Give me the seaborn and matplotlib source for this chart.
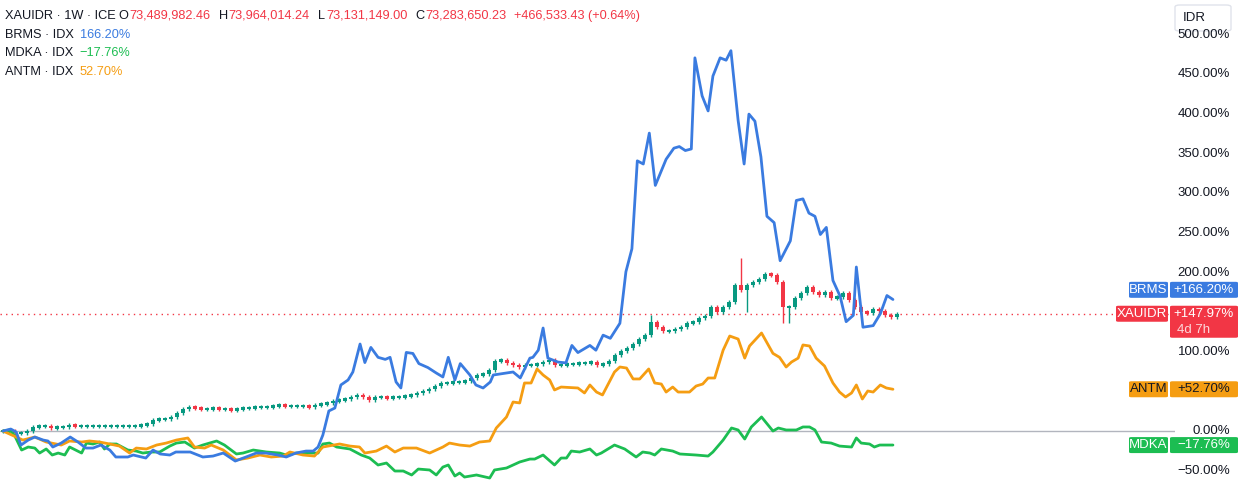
import numpy as np
import pandas as pd
import matplotlib
matplotlib.use("Agg")
import matplotlib.pyplot as plt
import seaborn as sns

# ---------------- data (percent change vs start, weekly) ----------------
gold_close = [0,0,-2.5,-2.5,0,5,6.3,6.3,3.8,5,5,7.6,6.3,
    6.3,6.3,6.3,6.3,6.3,6.3,6.3,6.3,6.3,6.3,
    7.6,8.8,13.9,15.2,15.2,17.7,22.7,27.8,30.3,29,27.8,27.8,29,27.8,27.8,26.5,27.8,29,29,
    30.3,30.3,30.3,31.6,32.8,31.6,31.6,31.6,31.6,30.3,32.8,34.1,35.4,37.9,39.1,40.4,42.9,45.5,
    42.9,39.1,42.9,42.9,41.7,42.9,42.9,44.2,45.5,48,50.5,53,56.8,60.6,60.6,61.9,61.9,63.1,66.9,
    70.7,72,77,88.4,89.6,85.9,83.3,80.8,83.3,83.3,84.6,87.1,89.6,83.3,83.3,84.6,84.6,85.9,85.9,
    87.1,83.3,84.6,88.4,96,101,104.8,109.8,116.1,121.2,137.6,131.3,126.3,126.3,128.8,131.3,136.4,
    137.6,142.7,145.2,156.6,150.2,156.6,162.9,184.3,178,184.3,188.1,191.9,198.2,197,188.1,156.6,
    156.6,167.9,174.2,181.8,175.5,171.7,175.5,167.9,169.2,174.2,165.4,156.6,150.2,149,154,151.5,
    146.5,143.9,148]
gold_spike_week = [108, 123, 124, 130, 131]
gold_spike_high = [146, 218, None, None, None]
gold_spike_low = [None, None, 150, 136, 136]

brms_week = [0,1.3,2.2,3,4.2,5.3,6.7,7.5,8.3,9.7,11.2,12.5,13.8,15,16.3,17.8,18.8,20.8,21.7,23.8,
    25,26.2,27.8,28.8,31.2,33.3,35,36.7,38.7,40.5,42.2,43.8,45.8,47.2,48.8,50.5,51.7,52.5,53.3,
    54.3,55.3,56.3,57.5,58.3,59.5,60.3,61.3,62.5,63.7,64.5,65.5,66.3,67.2,68.3,69.3,70.8,72.2,
    73.3,74.2,75.3,76.2,77.8,78.8,80,81.2,81.7,85,86.2,87.8,88.3,89.2,90,90.8,92.5,93.8,94.8,
    95.8,97.8,98.8,100,101.2,102.8,103.8,104.8,105.7,106.7,107.7,108.7,110.5,111.8,112.7,113.7,
    114.7,115.3,116.5,117.5,118.3,119.5,120.5,121.3,122.5,123.5,124.3,125.3,126.3,127.3,128.5,
    129.5,131.2,132.2,133.3,134.3,135.3,136.2,137.2,138.3,139.5,140.5,141.7,142.2,143.3,145,
    146.2,147.3,148.3]
brms_pct = [0,2.5,-1.3,-17.7,-11.4,-7.6,-11.4,-12.6,-20.2,-15.2,-7.6,-13.9,-21.5,-21.5,-17.7,
    -24,-32.8,-32.8,-30.3,-34.1,-24,-29,-30.3,-26.5,-26.5,-32.8,-31.6,-27.8,-37.9,-32.8,-27.8,
    -27.8,-30.3,-32.8,-27.8,-25.3,-25.3,-20.2,-5.1,25.3,29,58.1,64.4,74.5,109.8,86.4,105.5,93,
    90.4,93,61.9,54.3,99.2,97.9,85.1,80.1,73.2,68.2,93,64.4,85.1,70.7,58.1,54.3,61.9,70.7,74.5,
    67,92,93,102,130,92,87,86,108,99,108,102,121,117,136,201,230,341,337,376,310,343,357,359,
    354,356,471,423,404,448,471,468,480,392,337,400,391,346,271,263,215,240,291,293,275,271,
    248,257,190,170,138,146,207,131,133,148,171,166]

antm_week = [0,2.2,3.3,5.3,7.2,9.7,11.1,13.1,14.4,16.1,17.8,19.4,21.1,22.2,23.9,25.6,27.2,28.9,
    30.8,31.9,33.6,34.7,36.7,38.9,40.8,42.8,44.7,46.7,47.8,50,51.9,53.3,56.1,57.8,59.4,60.3,
    62.2,63.9,65.3,66.7,68.9,71.1,73.3,74.4,76.1,77.8,79.4,81.1,82.2,83.9,85,86.1,86.9,88,89,
    90,91.1,91.9,93,95.8,96.9,97.8,98.9,99.9,101.9,102.8,103.9,105,106.1,107.6,108.6,109.7,
    110.5,111.6,112.5,114.4,115.5,116.6,117.5,118.6,120,121.1,122.5,123.6,124.4,126.4,128.3,
    129.4,130.5,131.4,132.5,133.3,134.4,135.5,136.9,138.3,139.4,140.4,141.4,142.2,143.2,144.1,
    145,146.2,147.2,148.3]
antm_pct = [0,-7.6,-11.4,-7.6,-13.9,-17.7,-12.6,-13.9,-12.6,-13.9,-16.4,-19,-27.8,-21.5,-22.7,
    -17.7,-15.2,-11.4,-8.8,-20.2,-21.5,-17.7,-24,-36.6,-34.1,-30.3,-32.8,-31.6,-26.5,-30.3,
    -31.6,-20.2,-16.4,-19,-20.2,-27.8,-25.3,-19,-26.5,-21.5,-21.5,-27.8,-20.2,-15.2,-17.7,-19,
    -13.9,-12.6,3.8,17.7,36.6,35.4,60.6,60.6,78.3,70.7,64.4,51.8,55.5,54.3,48,58.1,49.2,45.5,
    74.5,80.8,79.5,65.7,65.7,78.3,60.6,59.3,49.2,55.5,49.2,49.2,56.8,59.3,66.9,66.9,102,119.9,
    116.1,92,107.3,123.7,98,93,80.8,87.1,92,108.6,107.3,92,82,60.6,49.2,42.9,48,58.1,40.4,50.5,
    49.2,58.1,54.3,52.7]

mdka_week = [0,1.1,1.9,3.1,4.2,5.3,6.1,7.2,8.2,9.2,10.3,11.1,13.1,13.9,15,16.1,16.9,17.8,18.9,
    20.8,22.2,23.3,24.7,26.1,27.8,28.9,30.3,31.9,33.3,35.6,36.9,38.9,40,41.7,43.9,46.1,47.2,
    48.9,50.6,52.5,53.3,54.4,55.6,57.8,59.7,61.1,62.5,63.9,65.3,66.7,68.1,69.2,71.1,72.2,73.3,
    74.2,75.3,76.1,76.9,78.9,81.1,81.9,83.9,86.1,87.8,88.6,90,91.9,93,93.9,94.7,96.1,97.8,98.9,
    99.7,101.9,103.6,105.5,106.6,107.8,108.6,109.7,111.6,112.8,115.5,117.5,118.3,120,121.4,
    122.5,123.6,124.7,126.4,128.3,129.2,130.5,132.2,133.3,134.4,135.3,136.4,138,139.4,141.4,
    142.2,143,144.4,145.2,146.1,148.3]
mdka_pct = [0,1.3,-5.1,-24,-20.2,-21.5,-27.8,-22.7,-30.3,-27.8,-30.3,-20.2,-27.8,-15.2,-16.4,
    -13.9,-22.7,-16.4,-16.4,-24,-25.3,-27.8,-26.5,-26.5,-19,-15.2,-13.9,-21.5,-17.7,-12.6,-17.7,
    -29,-27.8,-24,-26.5,-27.8,-30.3,-27.8,-27.8,-27.8,-16.4,-15.2,-20.2,-22.7,-30.3,-34.1,-42.9,
    -40.4,-50.5,-50.5,-55.5,-48,-49.2,-55.5,-45.5,-42.9,-56.8,-53,-58.1,-55.5,-59.3,-49.2,-46.7,
    -39.1,-35.4,-35.4,-30.3,-42.9,-34.1,-34.1,-25.3,-26.5,-22.7,-30.3,-27.8,-17.7,-22.7,-32.8,
    -26.5,-27.8,-30.3,-22.7,-25.3,-29,-30.3,-31.6,-26.5,-11.4,3.8,1.3,-10.1,5.1,17.7,0,3.8,1.3,
    1.3,5.1,5.1,1.3,-13.9,-15.2,-19,-20.2,-8.8,-15.2,-16.4,-20.2,-17.7,-17.7]

y_ticks = [-50, 0, 100, 200, 250, 300, 350, 400, 450, 500]

BLUE = "#3a7be0"; ORANGE = "#f59d12"; GREEN = "#1cbd52"
UP = "#089981"; DOWN = "#f23645"

# ---------------- figure ----------------
sns.set_theme(style="white")
plt.rcParams['font.family'] = ['Liberation Sans', 'DejaVu Sans']
W, H = 1245, 494
fig = plt.figure(figsize=(W/100, H/100), dpi=100)
ax = fig.add_axes([0, 0, 1175/W, 1])
ax.set_xlim(-0.5, 195.3)
ax.set_ylim(-79.5, 544)
for s in ax.spines.values():
    s.set_visible(False)
ax.set_xticks([]); ax.set_yticks([])

ax.axhline(0, color="#b2b5be", lw=1, zorder=1)
ax.axhline(gold_close[-1], color=DOWN, lw=1, ls=(0, (1, 3)), zorder=1)

# candles
close = np.array(gold_close, dtype=float)
opn = np.concatenate([[0.0], close[:-1]])
wk = np.arange(len(close))
hi = np.maximum(opn, close) + 2
lo = np.minimum(opn, close) - 2
for w, h, l in zip(gold_spike_week, gold_spike_high, gold_spike_low):
    if w < len(close):
        if h is not None: hi[w] = h
        if l is not None: lo[w] = l
cols = [UP if c >= o else DOWN for o, c in zip(opn, close)]
ax.vlines(wk, lo, hi, colors=cols, lw=1, zorder=2)
body = np.maximum(np.abs(close - opn), 3.5)
bot = np.where(np.abs(close - opn) < 3.5, (opn + close) / 2 - 1.75, np.minimum(opn, close))
ax.bar(wk, body, bottom=bot, width=0.7, color=cols, lw=0, zorder=2)

for wks, vals, c in [(mdka_week, mdka_pct, GREEN), (antm_week, antm_pct, ORANGE), (brms_week, brms_pct, BLUE)]:
    df = pd.DataFrame({"w": wks, "v": vals})
    sns.lineplot(data=df, x="w", y="v", ax=ax, color=c, lw=2, sort=False, zorder=3)
ax.set_xlabel(""); ax.set_ylabel("")

# right price scale
for tk in y_ticks:
    fig.text(1230/W, (tk + 79.5) / 623.5, f"{tk:.2f}%".replace("-", "\u2212"),
             ha="right", va="center", fontsize=9.5, color="#131722")

def tag(v, name, val, color, tc="white", extra=None, x0=1129):
    yc = (v + 79.5) / 623.5
    hpx = 16
    fig.patches.append(matplotlib.patches.FancyBboxPatch((x0/W, yc - hpx/2/H), (1168-x0)/W, hpx/H,
        boxstyle="round,pad=0,rounding_size=0.002", transform=fig.transFigure, color=color, lw=0))
    h2 = hpx + (16 if extra else 0)
    fig.patches.append(matplotlib.patches.FancyBboxPatch((1170/W, yc + hpx/2/H - h2/H), 68/W, h2/H,
        boxstyle="round,pad=0,rounding_size=0.002", transform=fig.transFigure, color=color, lw=0))
    fig.text((x0 + 1168)/2/W, yc, name, ha="center", va="center", fontsize=9.5, color=tc)
    fig.text(1204/W, yc, val, ha="center", va="center", fontsize=9.5, color=tc)
    if extra:
        fig.text(1177/W, yc - 16/H, extra, ha="left", va="center", fontsize=9.5, color=tc, alpha=0.8)

tag(166.2 + 12, "BRMS", "+166.20%", BLUE)
tag(gold_close[-1], "XAUIDR", "+147.97%", DOWN, extra="4d 7h", x0=1116)
tag(52.7, "ANTM", "+52.70%", ORANGE, tc="#131722")
tag(-17.76, "MDKA", "\u221217.76%", GREEN)

# IDR box
fig.patches.append(matplotlib.patches.FancyBboxPatch((1175/W, 1-31/H), 56/W, 26/H,
    boxstyle="round,pad=0,rounding_size=0.004", transform=fig.transFigure,
    facecolor="white", edgecolor="#e0e3eb", lw=1))
fig.text(1183/W, 1-18/H, "IDR", ha="left", va="center", fontsize=9.5, color="#131722")

# legend (top-left): pieces laid out one after another
K = "#131722"; R = DOWN
renderer = fig.canvas.get_renderer()
def row(y, pieces, x=5):
    for s, c, gap in pieces:
        txt = fig.text(x/W, 1 - y/H, s, ha="left", va="center", fontsize=9.2, color=c)
        x += txt.get_window_extent(renderer).width + gap
row(16, [("XAUIDR \u00b7 1W \u00b7 ICE", K, 3), ("O", K, 1), ("73,489,982.46", R, 8),
         ("H", K, 1), ("73,964,014.24", R, 8), ("L", K, 1), ("73,131,149.00", R, 8),
         ("C", K, 1), ("73,283,650.23", R, 8), ("+466,533.43 (+0.64%)", R, 0)])
row(35, [("BRMS \u00b7 IDX", K, 6), ("166.20%", BLUE, 0)])
row(53, [("MDKA \u00b7 IDX", K, 6), ("\u221217.76%", GREEN, 0)])
row(72, [("ANTM \u00b7 IDX", K, 6), ("52.70%", ORANGE, 0)])

fig.savefig("out.png", dpi=100)
